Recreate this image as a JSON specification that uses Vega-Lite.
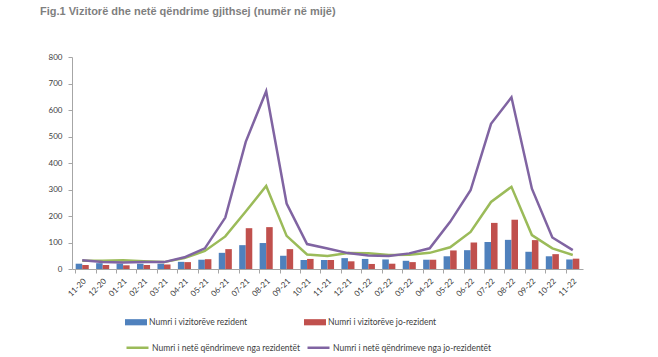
{
  "$schema": "https://vega.github.io/schema/vega-lite/v6.json",
  "width": 511,
  "height": 212,
  "autosize": {"type": "none"},
  "padding": {"left": 72, "top": 57, "right": 75, "bottom": 88},
  "background": "white",
  "title": {
    "text": "Fig.1 Vizitorë dhe netë qëndrime gjithsej (numër në mijë)",
    "anchor": "start",
    "frame": "group",
    "dx": -32,
    "offset": 36,
    "font": "Liberation Sans",
    "fontSize": 11,
    "fontWeight": "bold",
    "color": "#7f7f7f"
  },
  "config": {
    "view": {"stroke": null},
    "font": "Lato",
    "axis": {"labelColor": "#404040", "labelFont": "Lato", "labelFontSize": 8, "domainColor": "#a6a6a6", "tickColor": "#a6a6a6", "grid": false, "title": null}
  },
  "datasets": {
    "bars": [
      {"month": "11-20", "series": "Numri i vizitorëve rezident", "value": 20},
      {"month": "12-20", "series": "Numri i vizitorëve rezident", "value": 22},
      {"month": "01-21", "series": "Numri i vizitorëve rezident", "value": 21},
      {"month": "02-21", "series": "Numri i vizitorëve rezident", "value": 20},
      {"month": "03-21", "series": "Numri i vizitorëve rezident", "value": 20},
      {"month": "04-21", "series": "Numri i vizitorëve rezident", "value": 27},
      {"month": "05-21", "series": "Numri i vizitorëve rezident", "value": 35},
      {"month": "06-21", "series": "Numri i vizitorëve rezident", "value": 61},
      {"month": "07-21", "series": "Numri i vizitorëve rezident", "value": 90},
      {"month": "08-21", "series": "Numri i vizitorëve rezident", "value": 98},
      {"month": "09-21", "series": "Numri i vizitorëve rezident", "value": 50},
      {"month": "10-21", "series": "Numri i vizitorëve rezident", "value": 34},
      {"month": "11-21", "series": "Numri i vizitorëve rezident", "value": 34},
      {"month": "12-21", "series": "Numri i vizitorëve rezident", "value": 41},
      {"month": "01-22", "series": "Numri i vizitorëve rezident", "value": 38},
      {"month": "02-22", "series": "Numri i vizitorëve rezident", "value": 36},
      {"month": "03-22", "series": "Numri i vizitorëve rezident", "value": 31},
      {"month": "04-22", "series": "Numri i vizitorëve rezident", "value": 35},
      {"month": "05-22", "series": "Numri i vizitorëve rezident", "value": 48},
      {"month": "06-22", "series": "Numri i vizitorëve rezident", "value": 71},
      {"month": "07-22", "series": "Numri i vizitorëve rezident", "value": 102},
      {"month": "08-22", "series": "Numri i vizitorëve rezident", "value": 110},
      {"month": "09-22", "series": "Numri i vizitorëve rezident", "value": 65},
      {"month": "10-22", "series": "Numri i vizitorëve rezident", "value": 48},
      {"month": "11-22", "series": "Numri i vizitorëve rezident", "value": 36},
      {"month": "11-20", "series": "Numri i vizitorëve jo-rezident", "value": 15},
      {"month": "12-20", "series": "Numri i vizitorëve jo-rezident", "value": 15},
      {"month": "01-21", "series": "Numri i vizitorëve jo-rezident", "value": 14},
      {"month": "02-21", "series": "Numri i vizitorëve jo-rezident", "value": 15},
      {"month": "03-21", "series": "Numri i vizitorëve jo-rezident", "value": 17},
      {"month": "04-21", "series": "Numri i vizitorëve jo-rezident", "value": 26},
      {"month": "05-21", "series": "Numri i vizitorëve jo-rezident", "value": 37},
      {"month": "06-21", "series": "Numri i vizitorëve jo-rezident", "value": 75},
      {"month": "07-21", "series": "Numri i vizitorëve jo-rezident", "value": 154},
      {"month": "08-21", "series": "Numri i vizitorëve jo-rezident", "value": 158},
      {"month": "09-21", "series": "Numri i vizitorëve jo-rezident", "value": 75},
      {"month": "10-21", "series": "Numri i vizitorëve jo-rezident", "value": 38},
      {"month": "11-21", "series": "Numri i vizitorëve jo-rezident", "value": 34},
      {"month": "12-21", "series": "Numri i vizitorëve jo-rezident", "value": 29},
      {"month": "01-22", "series": "Numri i vizitorëve jo-rezident", "value": 19},
      {"month": "02-22", "series": "Numri i vizitorëve jo-rezident", "value": 20},
      {"month": "03-22", "series": "Numri i vizitorëve jo-rezident", "value": 26},
      {"month": "04-22", "series": "Numri i vizitorëve jo-rezident", "value": 35},
      {"month": "05-22", "series": "Numri i vizitorëve jo-rezident", "value": 70},
      {"month": "06-22", "series": "Numri i vizitorëve jo-rezident", "value": 100},
      {"month": "07-22", "series": "Numri i vizitorëve jo-rezident", "value": 174},
      {"month": "08-22", "series": "Numri i vizitorëve jo-rezident", "value": 186},
      {"month": "09-22", "series": "Numri i vizitorëve jo-rezident", "value": 109},
      {"month": "10-22", "series": "Numri i vizitorëve jo-rezident", "value": 56},
      {"month": "11-22", "series": "Numri i vizitorëve jo-rezident", "value": 39}
    ],
    "lines": [
      {"month": "11-20", "series": "Numri i netë qëndrimeve nga rezidentët", "value": 31},
      {"month": "12-20", "series": "Numri i netë qëndrimeve nga rezidentët", "value": 31},
      {"month": "01-21", "series": "Numri i netë qëndrimeve nga rezidentët", "value": 33},
      {"month": "02-21", "series": "Numri i netë qëndrimeve nga rezidentët", "value": 29},
      {"month": "03-21", "series": "Numri i netë qëndrimeve nga rezidentët", "value": 26},
      {"month": "04-21", "series": "Numri i netë qëndrimeve nga rezidentët", "value": 41},
      {"month": "05-21", "series": "Numri i netë qëndrimeve nga rezidentët", "value": 68},
      {"month": "06-21", "series": "Numri i netë qëndrimeve nga rezidentët", "value": 123},
      {"month": "07-21", "series": "Numri i netë qëndrimeve nga rezidentët", "value": 217},
      {"month": "08-21", "series": "Numri i netë qëndrimeve nga rezidentët", "value": 313},
      {"month": "09-21", "series": "Numri i netë qëndrimeve nga rezidentët", "value": 125},
      {"month": "10-21", "series": "Numri i netë qëndrimeve nga rezidentët", "value": 55},
      {"month": "11-21", "series": "Numri i netë qëndrimeve nga rezidentët", "value": 49},
      {"month": "12-21", "series": "Numri i netë qëndrimeve nga rezidentët", "value": 60},
      {"month": "01-22", "series": "Numri i netë qëndrimeve nga rezidentët", "value": 59},
      {"month": "02-22", "series": "Numri i netë qëndrimeve nga rezidentët", "value": 53},
      {"month": "03-22", "series": "Numri i netë qëndrimeve nga rezidentët", "value": 54},
      {"month": "04-22", "series": "Numri i netë qëndrimeve nga rezidentët", "value": 61},
      {"month": "05-22", "series": "Numri i netë qëndrimeve nga rezidentët", "value": 82},
      {"month": "06-22", "series": "Numri i netë qëndrimeve nga rezidentët", "value": 140},
      {"month": "07-22", "series": "Numri i netë qëndrimeve nga rezidentët", "value": 253},
      {"month": "08-22", "series": "Numri i netë qëndrimeve nga rezidentët", "value": 310},
      {"month": "09-22", "series": "Numri i netë qëndrimeve nga rezidentët", "value": 128},
      {"month": "10-22", "series": "Numri i netë qëndrimeve nga rezidentët", "value": 78},
      {"month": "11-22", "series": "Numri i netë qëndrimeve nga rezidentët", "value": 53},
      {"month": "11-20", "series": "Numri i netë qëndrimeve nga jo-rezidentët", "value": 33},
      {"month": "12-20", "series": "Numri i netë qëndrimeve nga jo-rezidentët", "value": 26},
      {"month": "01-21", "series": "Numri i netë qëndrimeve nga jo-rezidentët", "value": 25},
      {"month": "02-21", "series": "Numri i netë qëndrimeve nga jo-rezidentët", "value": 26},
      {"month": "03-21", "series": "Numri i netë qëndrimeve nga jo-rezidentët", "value": 26},
      {"month": "04-21", "series": "Numri i netë qëndrimeve nga jo-rezidentët", "value": 44},
      {"month": "05-21", "series": "Numri i netë qëndrimeve nga jo-rezidentët", "value": 78},
      {"month": "06-21", "series": "Numri i netë qëndrimeve nga jo-rezidentët", "value": 194},
      {"month": "07-21", "series": "Numri i netë qëndrimeve nga jo-rezidentët", "value": 480},
      {"month": "08-21", "series": "Numri i netë qëndrimeve nga jo-rezidentët", "value": 671},
      {"month": "09-21", "series": "Numri i netë qëndrimeve nga jo-rezidentët", "value": 247},
      {"month": "10-21", "series": "Numri i netë qëndrimeve nga jo-rezidentët", "value": 94},
      {"month": "11-21", "series": "Numri i netë qëndrimeve nga jo-rezidentët", "value": 77},
      {"month": "12-21", "series": "Numri i netë qëndrimeve nga jo-rezidentët", "value": 60},
      {"month": "01-22", "series": "Numri i netë qëndrimeve nga jo-rezidentët", "value": 51},
      {"month": "02-22", "series": "Numri i netë qëndrimeve nga jo-rezidentët", "value": 49},
      {"month": "03-22", "series": "Numri i netë qëndrimeve nga jo-rezidentët", "value": 59},
      {"month": "04-22", "series": "Numri i netë qëndrimeve nga jo-rezidentët", "value": 78},
      {"month": "05-22", "series": "Numri i netë qëndrimeve nga jo-rezidentët", "value": 178},
      {"month": "06-22", "series": "Numri i netë qëndrimeve nga jo-rezidentët", "value": 297},
      {"month": "07-22", "series": "Numri i netë qëndrimeve nga jo-rezidentët", "value": 548},
      {"month": "08-22", "series": "Numri i netë qëndrimeve nga jo-rezidentët", "value": 648},
      {"month": "09-22", "series": "Numri i netë qëndrimeve nga jo-rezidentët", "value": 303},
      {"month": "10-22", "series": "Numri i netë qëndrimeve nga jo-rezidentët", "value": 119},
      {"month": "11-22", "series": "Numri i netë qëndrimeve nga jo-rezidentët", "value": 71}
    ]
  },
  "encoding": {
    "x": {
      "field": "month",
      "type": "ordinal",
      "sort": null,
      "scale": {"paddingInner": 0.36, "paddingOuter": 0.18},
      "axis": {"labelAngle": -45, "bandPosition": 0, "tickSize": 4, "labelPadding": 4, "labelBound": false}
    },
    "y": {
      "field": "value",
      "type": "quantitative",
      "scale": {"domain": [0, 800], "nice": false},
      "axis": {"values": [0, 100, 200, 300, 400, 500, 600, 700, 800], "tickSize": 4, "labelPadding": 6}
    }
  },
  "layer": [
    {
      "data": {"name": "bars"},
      "mark": {"type": "bar"},
      "encoding": {
        "xOffset": {"field": "series", "type": "nominal", "sort": ["Numri i vizitorëve rezident", "Numri i vizitorëve jo-rezident"]},
        "color": {
          "field": "series",
          "type": "nominal",
          "scale": {"domain": ["Numri i vizitorëve rezident", "Numri i vizitorëve jo-rezident"], "range": ["#4F81BD", "#C0504D"]},
          "legend": {
            "title": null,
            "orient": "none",
            "legendX": 53,
            "legendY": 254,
            "direction": "horizontal",
            "columns": 2,
            "columnPadding": 56,
            "padding": 0,
            "symbolType": "M-1,-0.28H1V0.28H-1Z",
            "symbolSize": 484,
            "symbolStrokeWidth": 0,
            "labelFont": "Lato",
            "labelFontSize": 8.5,
            "labelColor": "#404040",
            "labelOffset": 2,
            "labelLimit": 300
          }
        }
      }
    },
    {
      "data": {"name": "lines"},
      "mark": {"type": "line", "strokeWidth": 2.5},
      "encoding": {
        "stroke": {
          "field": "series",
          "type": "nominal",
          "scale": {"domain": ["Numri i netë qëndrimeve nga rezidentët", "Numri i netë qëndrimeve nga jo-rezidentët"], "range": ["#9BBB59", "#8064A2"]},
          "legend": {
            "title": null,
            "orient": "none",
            "legendX": 53,
            "legendY": 278,
            "direction": "horizontal",
            "columns": 2,
            "columnPadding": 1,
            "padding": 0,
            "symbolType": "stroke",
            "symbolSize": 484,
            "symbolStrokeWidth": 2.5,
            "labelFont": "Lato",
            "labelFontSize": 8.5,
            "labelColor": "#404040",
            "labelOffset": 2,
            "labelLimit": 300
          }
        }
      }
    }
  ]
}
